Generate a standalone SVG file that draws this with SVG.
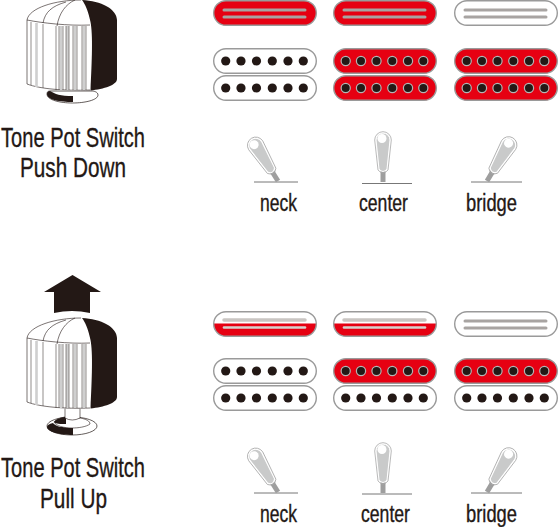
<svg xmlns="http://www.w3.org/2000/svg" xmlns:xlink="http://www.w3.org/1999/xlink" width="558" height="527" viewBox="0 0 558 527">
<style>
text{font-family:"Liberation Sans",Arial,sans-serif;fill:#231815;stroke:#231815;stroke-width:.35}
.t{font-size:28px}.l{font-size:23px}
.r{fill:#e60012;stroke:#9a9a9a;stroke-width:1.4}
.w{fill:#fff;stroke:#9a9a9a;stroke-width:1.4}
.s{stroke:#a8a4a2;stroke-width:3;stroke-linecap:round;fill:none}
.s2{stroke:#c9c5c2;stroke-width:3.5;stroke-linecap:round;fill:none}
.d{fill:#231815}
.p{fill:#231815;stroke:#b5b5b5;stroke-width:1.2}
.k{stroke:#231815;stroke-width:.6;fill:none}
</style>
<defs>
<g id="poles"><circle cx="12.7" cy="0" r="4.600"/><circle cx="28" cy="0" r="4.600"/><circle cx="43.5" cy="0" r="4.600"/><circle cx="59.3" cy="0" r="4.600"/><circle cx="75" cy="0" r="4.600"/><circle cx="90.3" cy="0" r="4.600"/></g>
<g id="humW"><rect x=".7" y=".7" width="102.6" height="24.6" rx="12.3" class="w"/><use xlink:href="#poles" y="13" class="d"/></g>
<g id="humR"><rect x=".7" y=".7" width="102.6" height="24.6" rx="12.3" class="r"/><use xlink:href="#poles" y="13" class="p"/></g>
<g id="singR"><rect x=".7" y=".7" width="102.6" height="24.6" rx="12.3" class="r"/><path d="M11 10H92M11 17H92" class="s"/></g>
<g id="singW"><rect x=".7" y=".7" width="102.6" height="24.6" rx="12.3" class="w"/><path d="M11 10H92M11 17H92" class="s"/></g>
<g id="singH"><rect x=".7" y=".7" width="102.6" height="24.6" rx="12.3" fill="#fff"/><path d="M.7 12.5H103.3A12.3 12.3 0 0 1 91 25.3H13A12.3 12.3 0 0 1 .7 12.5Z" fill="#e60012"/><rect x=".7" y=".7" width="102.6" height="24.6" rx="12.3" fill="none" stroke="#9a9a9a" stroke-width="1.4"/><path d="M11 9H92" class="s2"/><path d="M11 16.5H92" stroke="#d6d2cf" stroke-width="2.6" stroke-linecap="round"/></g>
<g id="tog"><path d="M-2.5 36V49H2.5V36Z" fill="#9e9e9e"/><path d="M-7 7L-4 36Q0 41 4 36L7 7A7 7 0 0 0 -7 7Z" fill="#c9caca" stroke="#fff" stroke-width="1"/><path d="M-8.300 7L-5 37Q0 43 5 37L8.300 7A8.300 8.300 0 0 0 -8.300 7Z" fill="none" stroke="#a8a8a8" stroke-width=".8"/><circle cx="-1" cy="5.500" r="4.500" fill="#fff"/></g>
<g id="knob">
<path d="M27 20C29 8 52 1 81 0C102 1 117 9 117 20V79C117 85 104 89 90 90C70 92 50 91 27 84Z" fill="#fff"/>
<path d="M82 0C101 1 117 9 117 20V79C117 85 104 89 90.500 90.500C92 60 93 35 90.500 22C88 10 85 4 82 0Z" class="d"/>
<path d="M81 0C55 0 29 8 27 20V84C40 89 65 91 90 90M27 20C42 23 68 26 90 25M75 0C66 4 59 13 57 26M66 2C52 6 45 12 43 23" class="k"/>
<path d="M36.500 23V87M61 26V90M67.500 26V90M75 26V90M84 26V90" stroke="#cfcfcf" stroke-width="2.600" fill="none"/>
<path d="M31 22V85M43 24V88M56 26V90M59 26V90M63 26V90M66 26V90M69 26V90M73 26V90M77 26V90M82 26V90M86 26V90" stroke="#231815" stroke-width=".5" fill="none"/>
</g>
</defs>

<g id="knob-top">
<path d="M47 94C47 100 60 103 72.500 103S98 100 98 95C98 92 94 91 92 91H50C48 91 47 92 47 94Z" fill="#fff" stroke="#231815" stroke-width=".7"/>
<path d="M47 94C47 100 60 102 73 102V96C60 96 55 94 50 91C48 91 47 92 47 94Z" class="d"/>
<use xlink:href="#knob"/>
</g>
<g id="label-top"><text x="1" y="147" class="t" textLength="144" lengthAdjust="spacingAndGlyphs">Tone Pot Switch</text><text x="20" y="177" class="t" textLength="106" lengthAdjust="spacingAndGlyphs">Push Down</text></g>

<g id="neck-top"><use xlink:href="#singR" x="213"/><use xlink:href="#humW" x="213" y="48"/><use xlink:href="#humW" x="213" y="75"/></g>
<g id="center-top"><use xlink:href="#singR" x="333"/><use xlink:href="#humR" x="333" y="48"/><use xlink:href="#humR" x="333" y="75"/></g>
<g id="bridge-top"><use xlink:href="#singW" x="454"/><use xlink:href="#humR" x="454" y="48"/><use xlink:href="#humR" x="454" y="75"/></g>

<g id="sw-neck-top"><path d="M254 182H298" stroke="#777" stroke-width="1"/><use xlink:href="#tog" transform="translate(278 181) rotate(-32) translate(0 -49)"/><text x="260" y="211" class="l" textLength="37" lengthAdjust="spacingAndGlyphs">neck</text></g>
<g id="sw-center-top"><path d="M362 183.500H412" stroke="#777" stroke-width="1"/><use xlink:href="#tog" transform="translate(383 183) translate(0 -50)"/><text x="359" y="211" class="l" textLength="49" lengthAdjust="spacingAndGlyphs">center</text></g>
<g id="sw-bridge-top"><path d="M471 182H522" stroke="#777" stroke-width="1"/><use xlink:href="#tog" transform="translate(487 181) rotate(31) translate(0 -49)"/><text x="466" y="211" class="l" textLength="51" lengthAdjust="spacingAndGlyphs">bridge</text></g>

<g id="arrow"><path d="M72.500 275L101 292H90V313Q72 309 54 313V292H44Z" class="d"/></g>
<g id="knob-bottom">
<ellipse cx="72" cy="426" rx="25" ry="9" fill="#fff" stroke="#231815" stroke-width=".7"/>
<path d="M47 427C47 432 60 435 73 435V427H60C56 426 54 424 53 423C49 424 47 425 47 427Z" class="d"/>
<path d="M54 422C56 419 63 417 66 417L80 418C86 419 90 421 90 424C86 427 78 428 72 428C64 428 56 426 54 422Z" fill="#fff" stroke="#231815" stroke-width=".6"/>
<path d="M54 422C56 419 62 417 66 417V424C60 424 56 424 54 422Z" class="d"/>
<path d="M65 408V418Q72 422 80 418V408Z" fill="#fff" stroke="#231815" stroke-width=".6"/>
<use xlink:href="#knob" y="318"/>
</g>
<g id="label-bottom"><text x="1" y="477" class="t" textLength="144" lengthAdjust="spacingAndGlyphs">Tone Pot Switch</text><text x="40" y="508" class="t" textLength="67" lengthAdjust="spacingAndGlyphs">Pull Up</text></g>

<g id="neck-bottom"><use xlink:href="#singH" x="213" y="311"/><use xlink:href="#humW" x="213" y="358"/><use xlink:href="#humW" x="213" y="385"/></g>
<g id="center-bottom"><use xlink:href="#singH" x="333" y="311"/><use xlink:href="#humR" x="333" y="358"/><use xlink:href="#humW" x="333" y="385"/></g>
<g id="bridge-bottom"><use xlink:href="#singW" x="454" y="311"/><use xlink:href="#humR" x="454" y="358"/><use xlink:href="#humW" x="454" y="385"/></g>

<g id="sw-neck-bottom"><path d="M254 493H298" stroke="#777" stroke-width="1"/><use xlink:href="#tog" transform="translate(278 492) rotate(-32) translate(0 -49)"/><text x="260" y="522" class="l" textLength="37" lengthAdjust="spacingAndGlyphs">neck</text></g>
<g id="sw-center-bottom"><path d="M362 494H412" stroke="#777" stroke-width="1"/><use xlink:href="#tog" transform="translate(383 494) translate(0 -50)"/><text x="361" y="522" class="l" textLength="49" lengthAdjust="spacingAndGlyphs">center</text></g>
<g id="sw-bridge-bottom"><path d="M471 493H522" stroke="#777" stroke-width="1"/><use xlink:href="#tog" transform="translate(487 492) rotate(31) translate(0 -49)"/><text x="466" y="522" class="l" textLength="51" lengthAdjust="spacingAndGlyphs">bridge</text></g>
<g id="connectors"/>
</svg>
